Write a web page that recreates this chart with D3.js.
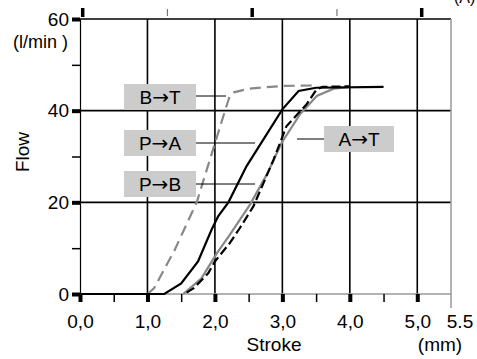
<!DOCTYPE html>
<html lang="en">
    <head>
        <meta charset="utf-8">
        <title>Flow vs Stroke</title>
        <script src="https://d3js.org/d3.v7.min.js"></script>
        <style type="text/css">
            body { margin: 0; background: #fff; }
            text { font-family: "Liberation Sans", Arial, sans-serif; fill: #000; }
        </style>
    </head>
    <body>
        <script type="text/javascript">

            const svgW = 477;
            const svgH = 359;

            // stroke (mm) / flow (l/min)
            const btX = [1.0, 1.1, 1.4, 1.73, 2.15, 2.22, 2.28, 2.5, 3.0, 3.5];
            const btY = [0, 1.3, 9.5, 20, 40, 43.2, 44, 44.8, 45.4, 45.5];

            const paX = [0, 1.25, 1.5, 1.75, 1.95, 2.05, 2.2, 2.47, 3.0, 3.24, 3.5, 4.5];
            const paY = [0, 0, 2.3, 7.1, 14, 17, 20, 27.9, 40.3, 44.3, 45, 45.2];

            const pbX = [1.53, 1.8, 2.03, 2.22, 2.52, 2.77, 2.99, 3.26, 3.51, 3.76, 4.0];
            const pbY = [0, 3.4, 8.9, 12.9, 19.5, 26.1, 33, 39.2, 43.2, 44.8, 45.2];

            const atX = [1.58, 1.68, 1.9, 2.0, 2.22, 2.37, 2.57, 2.87, 3.06, 3.36, 3.51, 3.6, 4.0];
            const atY = [0.3, 1.2, 4.5, 7.1, 11.1, 14.4, 19.1, 29.3, 36.6, 41.4, 44.7, 45.2, 45.3];

            const xMajor = [0, 1, 2, 3, 4, 5];
            const xMinor = [0.5, 1.5, 2.5, 3.5, 4.5];
            const yMajor = [0, 20, 40, 60];
            const yMinor = [10, 30, 50];
            const topMajor = [0, 2, 4];
            const topMinor = [1, 3];

            const labels = [
                {from: "B", to: "T", xl: 124, yl: 84, w: 72, lx1: 196, lx2: 226, ly: 96},
                {from: "P", to: "A", xl: 124, yl: 130, w: 72, lx1: 196, lx2: 255, ly: 143},
                {from: "P", to: "B", xl: 124, yl: 171, w: 72, lx1: 196, lx2: 255, ly: 184},
                {from: "A", to: "T", xl: 324, yl: 126, w: 70, lx1: 297, lx2: 324, ly: 139}
            ];

            const xScale = d3.scaleLinear().domain([0, 5.5]).range([80, 451]);
            const yScale = d3.scaleLinear().domain([0, 60]).range([294, 19]);
            const topScale = d3.scaleLinear().domain([0, 4]).range([82.7, 421.7]);

            const svg = d3.select("body")
                    .append("svg")
                    .attr("width", svgW)
                    .attr("height", svgH);

            // grid
            svg.append("g").selectAll("line")
                .data([1, 2, 3, 4, 5])
                .enter().append("line")
                .attr("x1", d => xScale(d)).attr("x2", d => xScale(d))
                .attr("y1", yScale(60)).attr("y2", yScale(0))
                .attr("stroke", "#000").attr("stroke-width", 1.6);

            svg.append("g").selectAll("line")
                .data([20, 40, 60])
                .enter().append("line")
                .attr("x1", xScale(0)).attr("x2", xScale(5.5))
                .attr("y1", d => yScale(d)).attr("y2", d => yScale(d))
                .attr("stroke", "#000").attr("stroke-width", 1.6);

            // right border, zero line
            svg.append("line")
                .attr("x1", xScale(5.5)).attr("x2", xScale(5.5))
                .attr("y1", yScale(60)).attr("y2", yScale(0) + 14)
                .attr("stroke", "#999").attr("stroke-width", 1.5);
            svg.append("line")
                .attr("x1", xScale(0)).attr("x2", xScale(5.5))
                .attr("y1", yScale(0)).attr("y2", yScale(0))
                .attr("stroke", "#999").attr("stroke-width", 1.5);

            // axes
            const leftAxis = svg.append("g")
                .attr("transform", "translate(" + xScale(0) + ",0)")
                .call(d3.axisLeft(yScale).tickValues(yMajor).tickSize(8).tickPadding(3).tickSizeOuter(0));
            leftAxis.select(".domain").attr("stroke-width", 1.2);
            leftAxis.selectAll(".tick line").attr("stroke-width", 4);
            leftAxis.selectAll("text").attr("font-size", 19).attr("font-family", "Liberation Sans, Arial, sans-serif");

            svg.append("g")
                .attr("transform", "translate(" + xScale(0) + ",0)")
                .call(d3.axisLeft(yScale).tickValues(yMinor).tickSize(8).tickFormat("").tickSizeOuter(0))
                .call(g => g.select(".domain").remove())
                .selectAll(".tick line").attr("stroke-width", 1.5);

            const bottomAxis = svg.append("g")
                .attr("transform", "translate(0," + yScale(0) + ")")
                .call(d3.axisBottom(xScale).tickValues(xMajor).tickSize(8).tickPadding(13)
                    .tickFormat(d => d.toFixed(1).replace(".", ",")));
            bottomAxis.select(".domain").remove();
            bottomAxis.selectAll(".tick line").attr("stroke-width", 4);
            bottomAxis.selectAll("text").attr("font-size", 19).attr("font-family", "Liberation Sans, Arial, sans-serif");

            svg.append("g")
                .attr("transform", "translate(0," + yScale(0) + ")")
                .call(d3.axisBottom(xScale).tickValues(xMinor).tickSize(8).tickFormat(""))
                .call(g => g.select(".domain").remove())
                .selectAll(".tick line").attr("stroke-width", 1.5);

            // small marks above the frame
            svg.append("g").selectAll("line")
                .data(topMajor)
                .enter().append("line")
                .attr("x1", d => topScale(d)).attr("x2", d => topScale(d))
                .attr("y1", 8).attr("y2", 17)
                .attr("stroke", "#000").attr("stroke-width", 3.5);
            svg.append("g").selectAll("line")
                .data(topMinor)
                .enter().append("line")
                .attr("x1", d => topScale(d)).attr("x2", d => topScale(d))
                .attr("y1", 9).attr("y2", 16)
                .attr("stroke", "#777").attr("stroke-width", 1.2);

            svg.append("text").attr("x", 454).attr("y", 3).attr("font-size", 16).text("(A)");

            // axis titles
            svg.append("text").attr("x", 68).attr("y", 48).attr("text-anchor", "end")
                .attr("font-size", 18).text("(l/min )");
            svg.append("text").attr("transform", "translate(29,152) rotate(-90)")
                .attr("text-anchor", "middle").attr("font-size", 19).text("Flow");
            svg.append("text").attr("x", 274).attr("y", 351).attr("text-anchor", "middle")
                .attr("font-size", 19).text("Stroke");
            svg.append("text").attr("x", 440).attr("y", 351).attr("text-anchor", "middle")
                .attr("font-size", 19).text("(mm)");
            svg.append("text").attr("x", xScale(5.5) + 9).attr("y", 328).attr("text-anchor", "middle")
                .attr("font-size", 19).text("5.5");

            // curves
            const line = d3.line().x(d => xScale(d[0])).y(d => yScale(d[1]));
            const series = [
                {x: btX, y: btY, color: "#888", dash: "11,6"},
                {x: pbX, y: pbY, color: "#888", dash: null},
                {x: atX, y: atY, color: "#000", dash: "9,4"},
                {x: paX, y: paY, color: "#000", dash: null}
            ];
            series.forEach(s => {
                svg.append("path")
                    .datum(s.x.map((v, i) => [v, s.y[i]]))
                    .attr("d", line)
                    .attr("fill", "none")
                    .attr("stroke", s.color)
                    .attr("stroke-width", 2.2)
                    .attr("stroke-dasharray", s.dash);
            });

            // label boxes
            const lab = svg.append("g");
            labels.forEach(l => {
                lab.append("line")
                    .attr("x1", l.lx1).attr("x2", l.lx2).attr("y1", l.ly).attr("y2", l.ly)
                    .attr("stroke", "#000").attr("stroke-width", 1);
                lab.append("rect")
                    .attr("x", l.xl).attr("y", l.yl).attr("width", l.w).attr("height", 26)
                    .attr("fill", "#cccccc");
                const t = lab.append("text")
                    .attr("x", l.xl + l.w / 2).attr("y", l.yl + 20)
                    .attr("text-anchor", "middle").attr("font-size", 19);
                t.append("tspan").text(l.from);
                t.append("tspan").attr("font-family", "DejaVu Sans").attr("font-size", 20).text("→");
                t.append("tspan").text(l.to);
            });

        </script>
    </body>
</html>
